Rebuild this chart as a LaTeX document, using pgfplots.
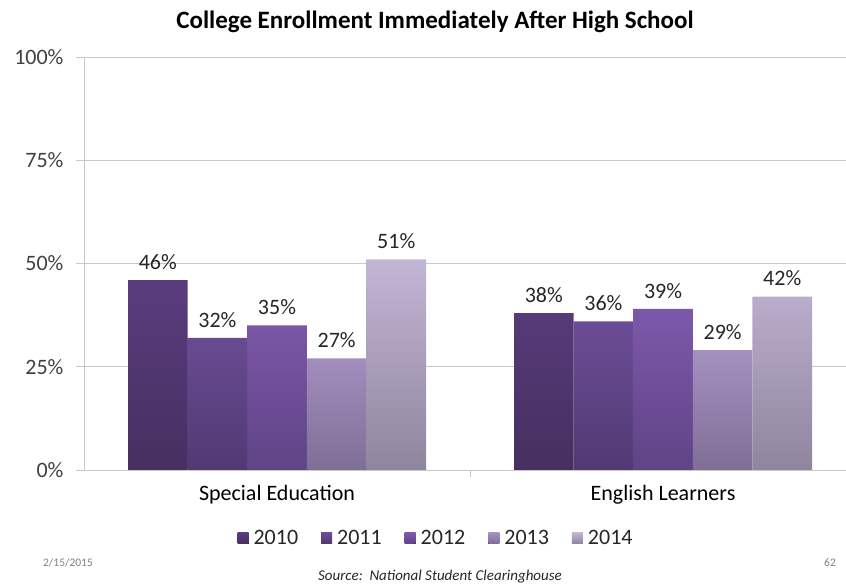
\documentclass[border=0pt]{standalone}
\usepackage{pgfplots}
\pgfplotsset{compat=1.18}
\usepackage{fontspec}
\setmainfont{Carlito}
\definecolor{ca1}{HTML}{5A3C7E}\definecolor{ca2}{HTML}{45305F}
\definecolor{cb1}{HTML}{6B4C96}\definecolor{cb2}{HTML}{503A72}
\definecolor{cc1}{HTML}{7D58AA}\definecolor{cc2}{HTML}{5F4486}
\definecolor{cd1}{HTML}{A590C0}\definecolor{cd2}{HTML}{7F6E96}
\definecolor{ce1}{HTML}{C3B5D5}\definecolor{ce2}{HTML}{8F859D}
\definecolor{gridc}{HTML}{C8C8C8}
\definecolor{txt}{HTML}{404040}
\begin{document}
\begin{tikzpicture}
\path[use as bounding box] (-84pt,-115pt) rectangle (762pt,470pt);
\begin{axis}[
  at={(0pt,0pt)}, anchor=south west,
  scale only axis, width=762pt, height=413pt,
  xmin=-0.5, xmax=1.474, ymin=0, ymax=100,
  axis x line*=bottom, axis y line*=left,
  axis line style={draw=gridc, line width=0.8pt, -},
  ytick={0,25,50,75,100},
  yticklabel={\pgfmathprintnumber{\tick}\%},
  /pgf/number format/assume math mode=true,
  ymajorgrids, grid style={draw=gridc, line width=0.8pt},
  tick align=outside, major tick length=8pt,
  ytick style={draw=gridc, line width=0.8pt},
  yticklabel style={font=\fontsize{22}{26}\selectfont, text=txt, xshift=-9pt},
  xtick={0,1}, xticklabels={Special Education, English Learners},
  xtick style={draw=none},
  xticklabel style={font=\fontsize{22}{26}\selectfont, text=black, yshift=-4pt},
  ybar=0pt, bar width=0.1544,
  nodes near coords={\pgfmathprintnumber{\pgfplotspointmeta}\%},
  every node near coord/.append style={font=\fontsize{22}{26}\selectfont, text=black!85, yshift=7pt},
  legend columns=5,
  legend style={draw=none, at={(0.462,-0.165)}, anchor=center,
    font=\fontsize{22}{26}\selectfont, text=black!85,
    /tikz/every even column/.append style={column sep=21pt},
    /tikz/every odd column/.append style={column sep=0pt}},
  legend image code/.code={\fill[#1] (0pt,-5.5pt) rectangle (11pt,5.5pt);},
  legend cell align=left,
  clip=false,
]
\addplot[draw=none, top color=ca1, bottom color=ca2, bar shift=-0.3088] coordinates {(0,46) (1,38)};
\addlegendentry{\hspace{3pt}2010}
\addplot[draw=none, top color=cb1, bottom color=cb2, bar shift=-0.1544] coordinates {(0,32) (1,36)};
\addlegendentry{\hspace{3pt}2011}
\addplot[draw=none, top color=cc1, bottom color=cc2, bar shift=0] coordinates {(0,35) (1,39)};
\addlegendentry{\hspace{3pt}2012}
\addplot[draw=none, top color=cd1, bottom color=cd2, bar shift=0.1544] coordinates {(0,27) (1,29)};
\addlegendentry{\hspace{3pt}2013}
\addplot[draw=none, top color=ce1, bottom color=ce2, bar shift=0.3088] coordinates {(0,51) (1,42)};
\addlegendentry{\hspace{3pt}2014}
\draw[gridc, line width=0.8pt] (axis cs:0.5,0) -- ([yshift=-7pt]axis cs:0.5,0);
\end{axis}
\node[font=\fontsize{25}{30}\selectfont\bfseries] at (351pt,448pt) {College Enrollment Immediately After High School};
\node[font=\fontsize{15}{18}\selectfont\itshape, text=black!85] at (356pt,-107pt) {Source:\ \ National Student Clearinghouse};
\node[font=\fontsize{11.5}{14}\selectfont, text=black!50] at (-16pt,-93pt) {2/15/2015};
\node[font=\fontsize{11.5}{14}\selectfont, text=black!50] at (746pt,-93pt) {62};
\end{tikzpicture}
\end{document}
